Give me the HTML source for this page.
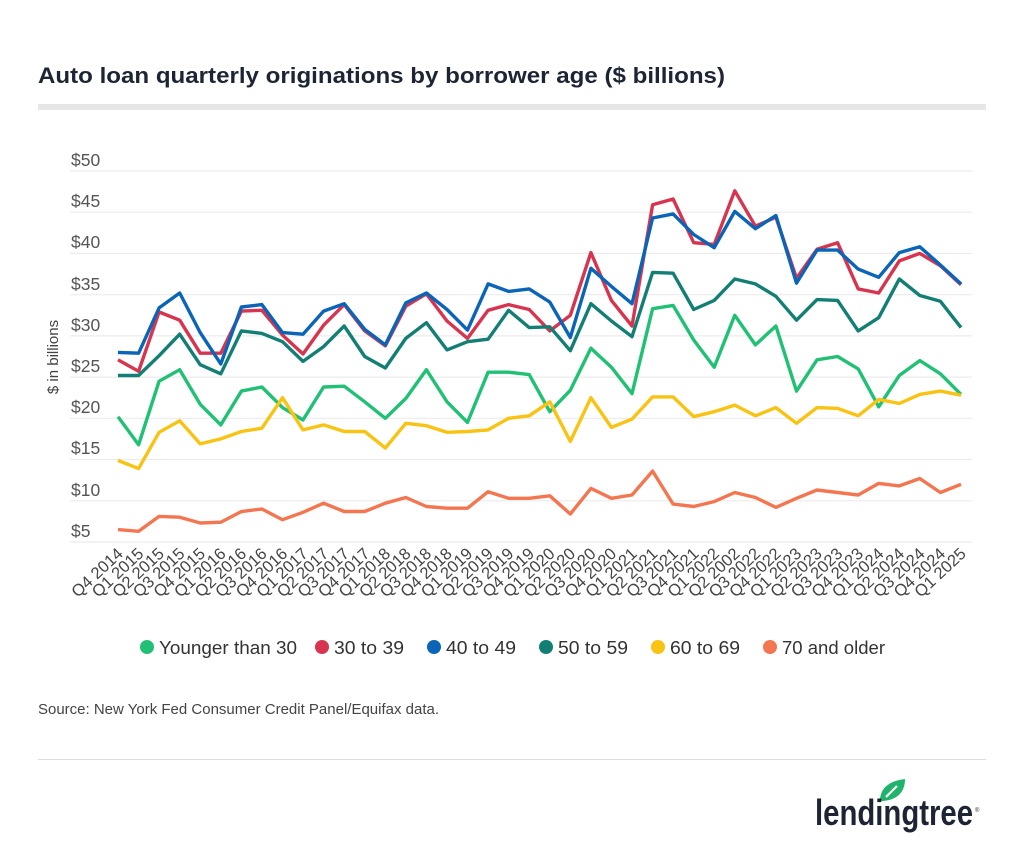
<!DOCTYPE html>
<html><head><meta charset="utf-8"><style>
body{margin:0;background:#fff;width:1024px;height:851px;overflow:hidden;font-family:"Liberation Sans",sans-serif}
</style></head><body>
<svg id="s" width="1024" height="851" viewBox="0 0 1024 851" xmlns="http://www.w3.org/2000/svg" font-family="Liberation Sans, sans-serif">
<text x="38" y="83" font-size="22.5" font-weight="bold" fill="#1d2535" textLength="687" lengthAdjust="spacingAndGlyphs">Auto loan quarterly originations by borrower age ($ billions)</text>
<rect x="38" y="104" width="948" height="6" fill="#e6e6e6"/>
<g stroke="#ececec" stroke-width="1.2">
<line x1="70" x2="972" y1="171" y2="171"/><line x1="70" x2="972" y1="212.2" y2="212.2"/><line x1="70" x2="972" y1="253.4" y2="253.4"/><line x1="70" x2="972" y1="294.7" y2="294.7"/><line x1="70" x2="972" y1="335.9" y2="335.9"/><line x1="70" x2="972" y1="377.1" y2="377.1"/><line x1="70" x2="972" y1="418.3" y2="418.3"/><line x1="70" x2="972" y1="459.5" y2="459.5"/><line x1="70" x2="972" y1="500.8" y2="500.8"/><line x1="70" x2="972" y1="542" y2="542"/>
</g>
<g font-size="17.5" fill="#555">
<text x="71" y="166">$50</text><text x="71" y="207">$45</text><text x="71" y="248">$40</text><text x="71" y="290">$35</text><text x="71" y="331">$30</text><text x="71" y="372">$25</text><text x="71" y="413">$20</text><text x="71" y="454">$15</text><text x="71" y="496">$10</text><text x="71" y="537">$5</text>
</g>
<text transform="translate(58,357) rotate(-90)" text-anchor="middle" font-size="15" fill="#444">$ in billions</text>
<g id="lines" fill="none" stroke-width="3.4" stroke-linejoin="round"></g>
<g font-size="16.5" fill="#444" text-anchor="end">
<text transform="translate(124,555) rotate(-43)">Q4 2014</text>
<text transform="translate(144.6,555) rotate(-43)">Q1 2015</text>
<text transform="translate(165.1,555) rotate(-43)">Q2 2015</text>
<text transform="translate(185.7,555) rotate(-43)">Q3 2015</text>
<text transform="translate(206.2,555) rotate(-43)">Q4 2015</text>
<text transform="translate(226.8,555) rotate(-43)">Q1 2016</text>
<text transform="translate(247.4,555) rotate(-43)">Q2 2016</text>
<text transform="translate(267.9,555) rotate(-43)">Q3 2016</text>
<text transform="translate(288.5,555) rotate(-43)">Q4 2016</text>
<text transform="translate(309,555) rotate(-43)">Q1 2017</text>
<text transform="translate(329.6,555) rotate(-43)">Q2 2017</text>
<text transform="translate(350.2,555) rotate(-43)">Q3 2017</text>
<text transform="translate(370.7,555) rotate(-43)">Q4 2017</text>
<text transform="translate(391.3,555) rotate(-43)">Q1 2018</text>
<text transform="translate(411.8,555) rotate(-43)">Q2 2018</text>
<text transform="translate(432.4,555) rotate(-43)">Q3 2018</text>
<text transform="translate(453,555) rotate(-43)">Q4 2018</text>
<text transform="translate(473.5,555) rotate(-43)">Q1 2019</text>
<text transform="translate(494.1,555) rotate(-43)">Q2 2019</text>
<text transform="translate(514.6,555) rotate(-43)">Q3 2019</text>
<text transform="translate(535.2,555) rotate(-43)">Q4 2019</text>
<text transform="translate(555.8,555) rotate(-43)">Q1 2020</text>
<text transform="translate(576.3,555) rotate(-43)">Q2 2020</text>
<text transform="translate(596.9,555) rotate(-43)">Q3 2020</text>
<text transform="translate(617.4,555) rotate(-43)">Q4 2020</text>
<text transform="translate(638,555) rotate(-43)">Q1 2021</text>
<text transform="translate(658.6,555) rotate(-43)">Q2 2021</text>
<text transform="translate(679.1,555) rotate(-43)">Q3 2021</text>
<text transform="translate(699.7,555) rotate(-43)">Q4 2021</text>
<text transform="translate(720.2,555) rotate(-43)">Q1 2022</text>
<text transform="translate(740.8,555) rotate(-43)">Q2 2002</text>
<text transform="translate(761.4,555) rotate(-43)">Q3 2022</text>
<text transform="translate(781.9,555) rotate(-43)">Q4 2022</text>
<text transform="translate(802.5,555) rotate(-43)">Q1 2023</text>
<text transform="translate(823,555) rotate(-43)">Q2 2023</text>
<text transform="translate(843.6,555) rotate(-43)">Q3 2023</text>
<text transform="translate(864.2,555) rotate(-43)">Q4 2023</text>
<text transform="translate(884.7,555) rotate(-43)">Q1 2024</text>
<text transform="translate(905.3,555) rotate(-43)">Q2 2024</text>
<text transform="translate(925.8,555) rotate(-43)">Q3 2024</text>
<text transform="translate(946.4,555) rotate(-43)">Q4 2024</text>
<text transform="translate(967,555) rotate(-43)">Q1 2025</text>
</g>
<g font-size="18" fill="#333">
<circle cx="147" cy="647" r="7" fill="#20c174"/><text x="159" y="654" textLength="138" lengthAdjust="spacingAndGlyphs">Younger than 30</text>
<circle cx="322" cy="647" r="7" fill="#d7354f"/><text x="334" y="654" textLength="70" lengthAdjust="spacingAndGlyphs">30 to 39</text>
<circle cx="434" cy="647" r="7" fill="#0a64b8"/><text x="446" y="654" textLength="70" lengthAdjust="spacingAndGlyphs">40 to 49</text>
<circle cx="546" cy="647" r="7" fill="#137f74"/><text x="558" y="654" textLength="70" lengthAdjust="spacingAndGlyphs">50 to 59</text>
<circle cx="658" cy="647" r="7" fill="#f8c312"/><text x="670" y="654" textLength="70" lengthAdjust="spacingAndGlyphs">60 to 69</text>
<circle cx="770" cy="647" r="7" fill="#f47651"/><text x="782" y="654" textLength="103" lengthAdjust="spacingAndGlyphs">70 and older</text>
</g>
<text x="38" y="714" font-size="14.5" fill="#444" textLength="401" lengthAdjust="spacingAndGlyphs">Source: New York Fed Consumer Credit Panel/Equifax data.</text>
<rect x="38" y="759" width="948" height="1" fill="#ddd"/>
<path d="M880 801 C880 788 889 781 905 779 C905 793 896 801 880 801 Z" fill="#1fb36b"/>
<path d="M886 797 L897 786" stroke="#fff" stroke-width="2.2"/>
<text x="815" y="825" font-size="36" font-weight="bold" fill="#1d2535" textLength="158" lengthAdjust="spacingAndGlyphs">lendingtree</text>
<text x="975" y="812" font-size="6" fill="#1d2535">®</text>
</svg>
<script>
var d=[
["#20c174",[20.2,16.8,24.5,25.9,21.7,19.2,23.3,23.8,21.3,19.8,23.8,23.9,22.0,20.0,22.4,25.9,22.0,19.5,25.6,25.6,25.3,20.8,23.4,28.5,26.2,23.0,33.3,33.7,29.5,26.2,32.5,28.9,31.2,23.3,27.1,27.5,26.0,21.4,25.2,27.0,25.4,22.9]],
["#d7354f",[27.1,25.7,32.9,31.9,27.9,27.9,33.0,33.1,30.1,27.8,31.3,33.8,30.6,28.8,33.6,35.1,31.8,29.7,33.1,33.8,33.2,30.6,32.5,40.1,34.3,31.2,45.9,46.6,41.3,41.1,47.6,43.3,44.4,37.0,40.5,41.3,35.7,35.2,39.1,40.0,38.5,36.2]],
["#0a64b8",[28.0,27.9,33.4,35.2,30.4,26.6,33.5,33.8,30.4,30.2,33.0,33.9,30.8,28.9,34.0,35.2,33.2,30.7,36.3,35.4,35.7,34.1,29.8,38.2,36.0,33.9,44.3,44.8,42.3,40.7,45.1,43.0,44.6,36.4,40.4,40.4,38.1,37.1,40.1,40.8,38.6,36.3]],
["#137f74",[25.2,25.2,27.6,30.2,26.5,25.4,30.6,30.3,29.3,26.9,28.7,31.2,27.5,26.1,29.7,31.6,28.3,29.3,29.6,33.1,31.0,31.1,28.2,33.9,31.8,29.9,37.7,37.6,33.2,34.3,36.9,36.3,34.8,31.9,34.4,34.3,30.6,32.2,36.9,34.9,34.2,31.0]],
["#f8c312",[14.9,13.9,18.3,19.7,16.9,17.5,18.4,18.8,22.5,18.6,19.2,18.4,18.4,16.4,19.4,19.1,18.3,18.4,18.6,20.0,20.3,22.0,17.2,22.5,18.9,19.9,22.6,22.6,20.2,20.8,21.6,20.3,21.3,19.4,21.3,21.2,20.3,22.3,21.8,22.9,23.3,22.8]],
["#f47651",[6.5,6.3,8.1,8.0,7.3,7.4,8.7,9.0,7.7,8.6,9.7,8.7,8.7,9.7,10.4,9.3,9.1,9.1,11.1,10.3,10.3,10.6,8.4,11.5,10.3,10.7,13.6,9.6,9.3,9.9,11.0,10.4,9.2,10.3,11.3,11.0,10.7,12.1,11.8,12.7,11.0,12.0]]];
var g=document.getElementById("lines"),h="";
d.forEach(function(s){var p=s[1].map(function(v,i){return (118+20.56*i).toFixed(1)+","+(171+(50-v)*8.244).toFixed(1)}).join(" ");h+='<polyline stroke="'+s[0]+'" points="'+p+'"/>';});
g.innerHTML=h;
</script>
</body></html>
